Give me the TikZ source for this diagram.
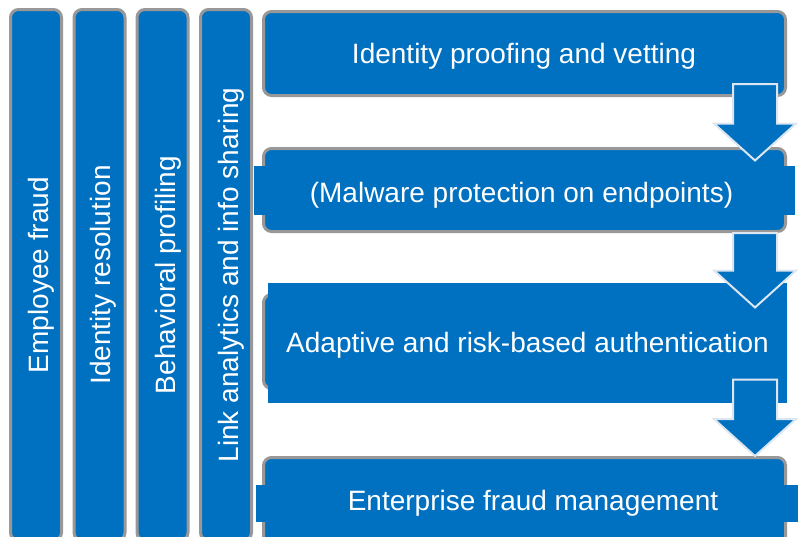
\documentclass[tikz,border=0pt]{standalone}
\usepackage{fontspec}
\setmainfont{Liberation Sans}
\usetikzlibrary{calc}
\definecolor{fillblue}{HTML}{0070C0}
\definecolor{edgegray}{HTML}{989898}
\definecolor{arrowedge}{HTML}{DCE6F1}
\newcommand\blockarrow[2]{%
  \draw[blockarrowstyle] ($(#1)+(-22,0)$) -- ($(#1)+(22,0)$) -- ($(#2)+(22,-37)$)
    -- ($(#2)+(41,-37)$) -- (#2) -- ($(#2)+(-41,-37)$) -- ($(#2)+(-22,-37)$) -- cycle;}
\begin{document}
\begin{tikzpicture}[x=1pt,y=-1pt,
  font=\fontsize{28}{34}\selectfont,
  barbox/.style={draw=edgegray, line width=3pt, fill=fillblue, rounded corners=8pt,
    minimum width=51pt, minimum height=531pt, inner sep=0pt, outer sep=0pt},
  stagebox/.style={draw=edgegray, line width=3pt, fill=fillblue, rounded corners=8pt,
    minimum width=522pt, inner sep=0pt, outer sep=0pt},
  plate/.style={fill=fillblue, inner sep=0pt, outer sep=0pt},
  lbl/.style={text=white, inner sep=0pt, anchor=base},
  vlbl/.style={lbl, rotate=90},
  blockarrowstyle/.style={fill=fillblue, draw=arrowedge, line width=2pt, line join=miter}]
\useasboundingbox (0,0) rectangle (798,536);
\clip (0,0) rectangle (798,536);
% vertical bars
\node[barbox] (v1) at (36,275) {};
\node[barbox] (v2) at (99.5,275) {};
\node[barbox] (v3) at (162.5,275) {};
\node[barbox] (v4) at (226,275) {};
\node[vlbl] (t1) at (48,275) {Employee fraud};
\node[vlbl] (t2) at (110,275) {Identity resolution};
\node[vlbl] (t3) at (175,275) {Behavioral profiling};
\node[vlbl] (t4) at (238,275) {Link analytics and info sharing};
% stage boxes
\node[stagebox, minimum height=84pt] (b1) at (524.5,53.5) {};
\node[stagebox, minimum height=83pt] (b2) at (524.5,190) {};
\node[plate, minimum width=541pt, minimum height=49pt] (p2) at (524.5,190.5) {};
\node[stagebox, minimum height=94pt] (b3) at (524.5,341.5) {};
\node[plate, minimum width=519pt, minimum height=120pt] (p3) at (527.5,343) {};
\node[stagebox, minimum height=90pt] (b4) at (524.5,502.5) {};
\node[plate, minimum width=554pt, minimum height=37pt] (p4) at (533,503.5) {};
% labels
\node[lbl] (l1) at (524,63) {Identity proofing and vetting};
\node[lbl] (l2) at (521.5,202) {(Malware protection on endpoints)};
\node[lbl] (l3) at (527.5,352) {Adaptive and risk-based authentication};
\node[lbl] (l4) at (533,510) {Enterprise fraud management};
% arrows
\coordinate (a1s) at ($(b1.south east)+(-30.5,-11.5)$);
\coordinate (a1e) at ($(b2.north east)+(-30.5,12)$);
\coordinate (a2s) at ($(b2.south east)+(-30.5,1.5)$);
\coordinate (a2e) at ($(b3.north east)+(-30.5,13)$);
\coordinate (a3s) at ($(b3.south east)+(-30.5,-9)$);
\coordinate (a3e) at ($(b4.north east)+(-30.5,-1.5)$);
\blockarrow{a1s}{a1e}
\blockarrow{a2s}{a2e}
\blockarrow{a3s}{a3e}
\end{tikzpicture}
\end{document}
